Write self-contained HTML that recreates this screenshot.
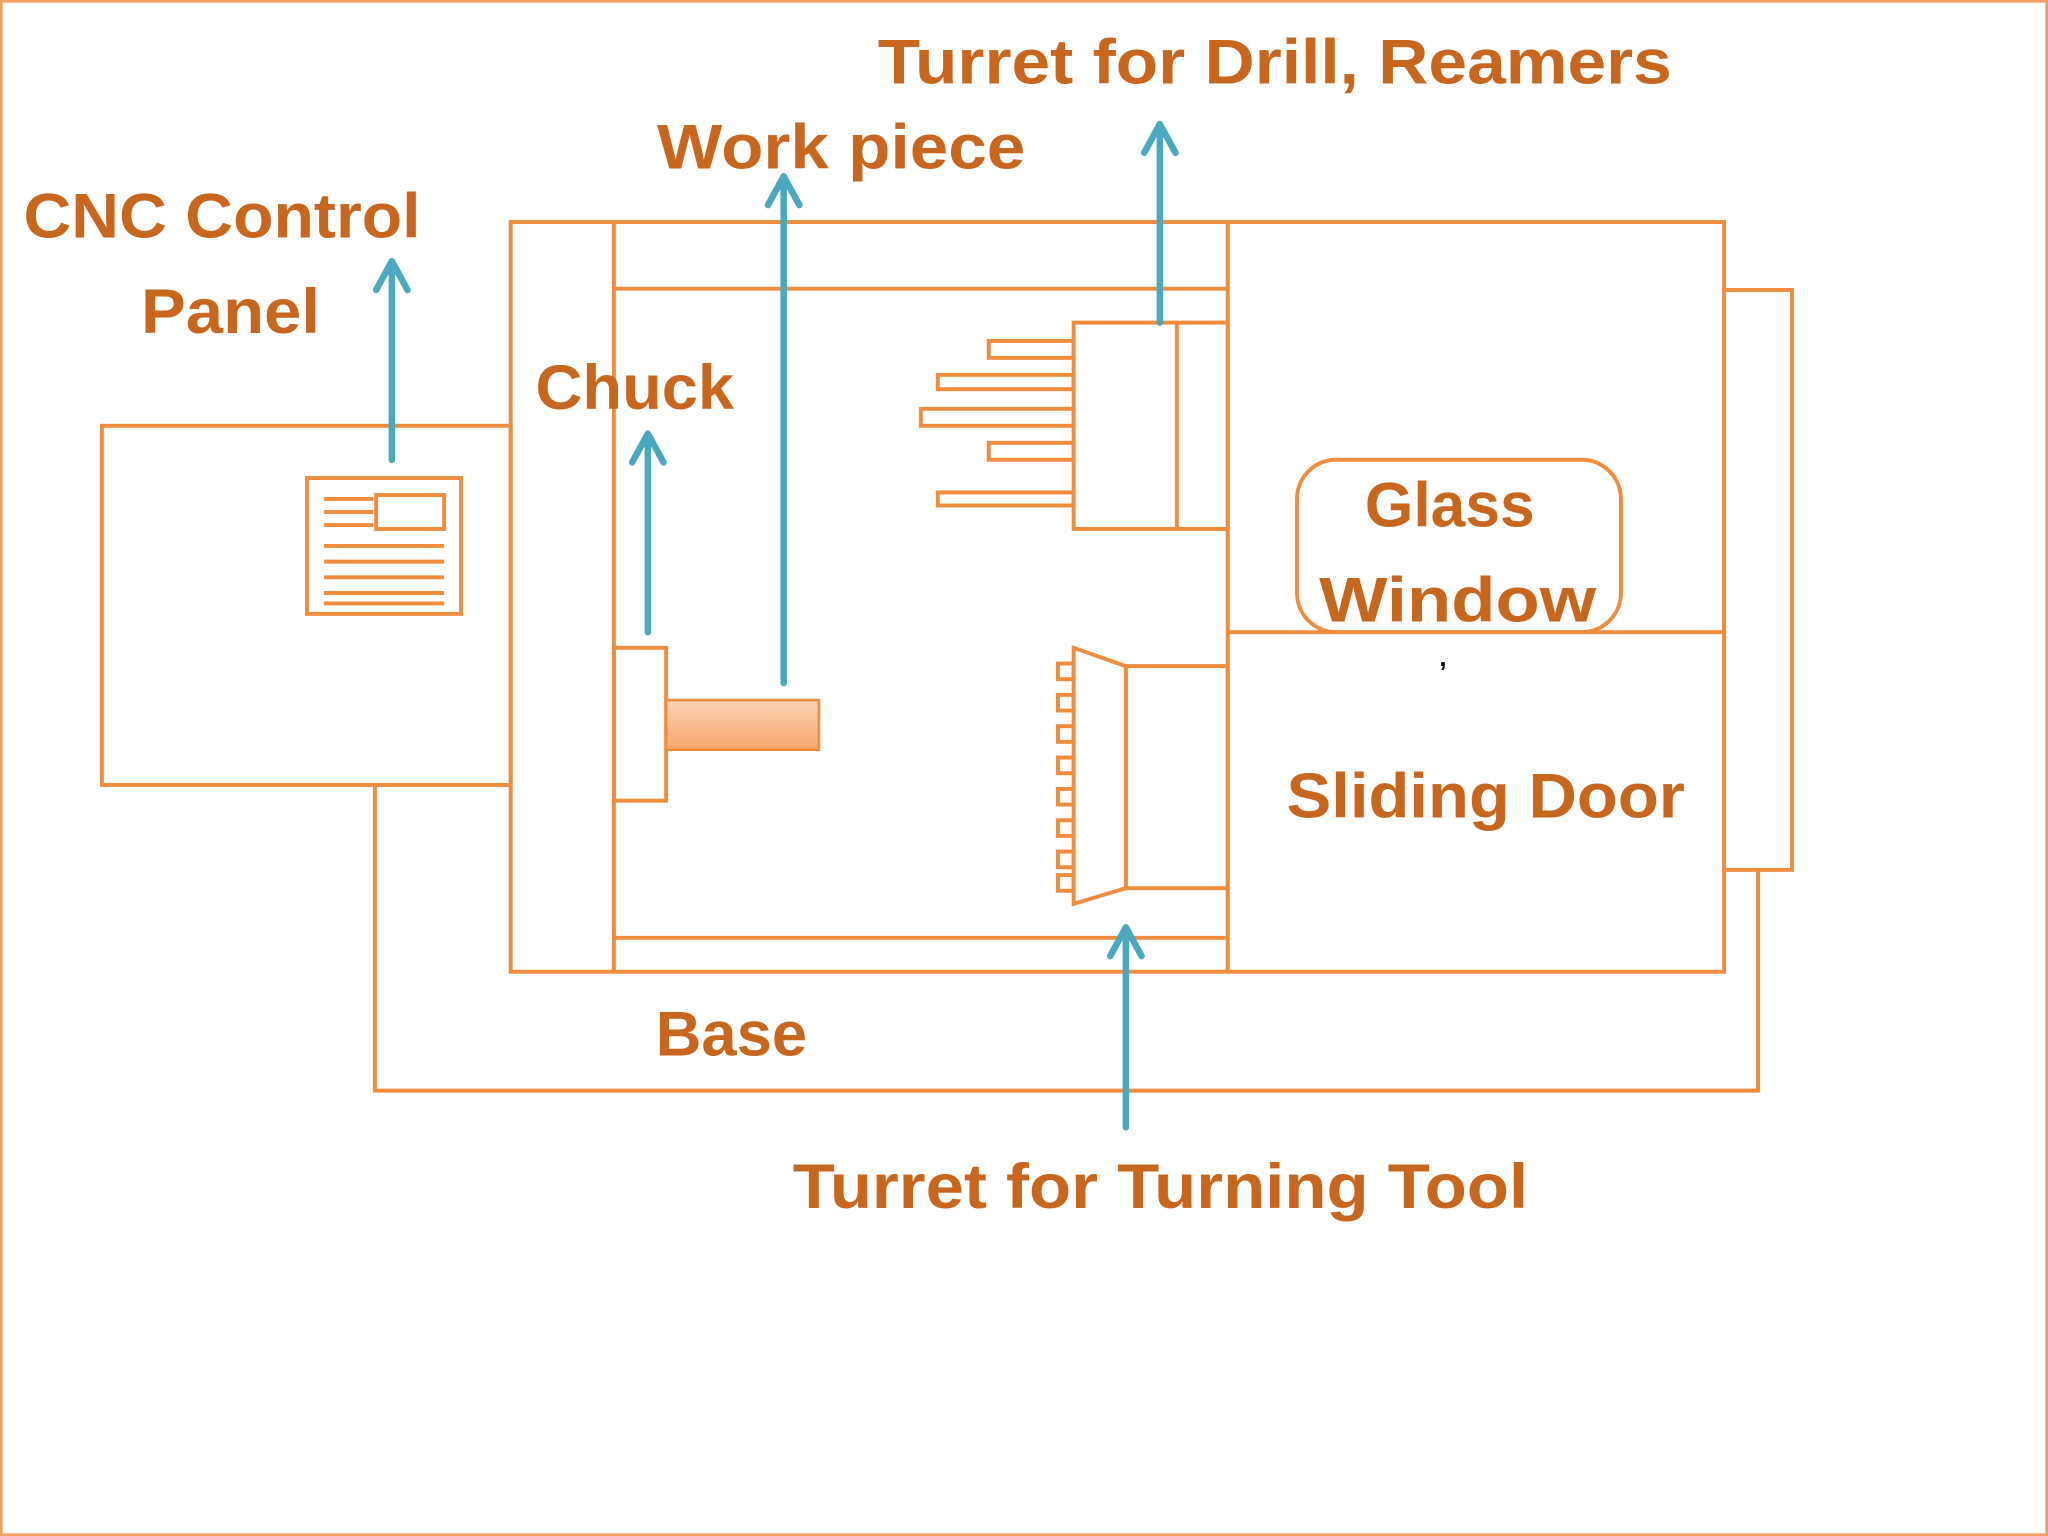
<!DOCTYPE html>
<html><head><meta charset="utf-8"><style>
html,body{margin:0;padding:0;background:#fff;}
svg{display:block;}
text{font-family:"Liberation Sans",sans-serif;font-weight:bold;fill:#c8661e;}
</style></head><body>
<svg width="2048" height="1536" viewBox="0 0 1568 1176" xmlns="http://www.w3.org/2000/svg">
<defs>
<linearGradient id="wp" x1="0" y1="0" x2="0" y2="1"><stop offset="0" stop-color="#fbd3b5"/><stop offset="1" stop-color="#f7a56a"/></linearGradient>
</defs>
<rect x="1" y="1" width="1566" height="1174" fill="#fff" stroke="#f0a060" stroke-width="2"/>
<g fill="none" stroke="#f08c3c" stroke-width="3">
<rect x="78" y="326" width="313" height="275"/>
<rect x="235" y="366" width="118" height="104"/>
<rect x="288" y="379" width="52" height="26"/>
<path d="M248 382H286M248 392H286M248 402H286M248 418H340M248 430H340M248 442H340M248 454H340M248 462H340"/>
<rect x="391" y="170" width="929" height="574"/>
<path d="M470 170V744M940 170V744M470 221H940M470 718H940M940 484H1320"/>
<rect x="1320" y="222" width="52" height="444"/>
<path d="M287 601V835H1346V666"/>
<rect x="470" y="496" width="40" height="117"/>
<rect x="822" y="247" width="118" height="158"/>
<path d="M901 247V405"/>
<rect x="757" y="261" width="65" height="13"/>
<rect x="718" y="287" width="104" height="11"/>
<rect x="705" y="313" width="117" height="13"/>
<rect x="757" y="339" width="65" height="13"/>
<rect x="718" y="377" width="104" height="10"/>
<path d="M822 496L862 510V680L822 692Z"/>
<rect x="862" y="510" width="78" height="170"/>
<rect x="810" y="508" width="12" height="12"/>
<rect x="810" y="532" width="12" height="12"/>
<rect x="810" y="556" width="12" height="12"/>
<rect x="810" y="580" width="12" height="12"/>
<rect x="810" y="604" width="12" height="12"/>
<rect x="810" y="628" width="12" height="12"/>
<rect x="810" y="652" width="12" height="12"/>
<rect x="810" y="670" width="12" height="12"/>
<rect x="993" y="352" width="248" height="132" rx="30"/>
</g>
<rect x="510" y="536" width="117" height="38" fill="url(#wp)" stroke="#f08c3c" stroke-width="2"/>
<g stroke="#4aa8c0" stroke-width="5" fill="none" stroke-linecap="round" stroke-linejoin="round">
<path d="M300 352V200M288 222L300 200L312 222"/>
<path d="M496 484V332M484 354L496 332L508 354"/>
<path d="M600 523V135M588 157L600 135L612 157"/>
<path d="M888 247V95M876 117L888 95L900 117"/>
<path d="M862 863V710M850 732L862 710L874 732"/>
</g>
<g font-size="48">
<text x="672" y="64" textLength="608" lengthAdjust="spacingAndGlyphs">Turret for Drill, Reamers</text>
<text x="503" y="129" textLength="282" lengthAdjust="spacingAndGlyphs">Work piece</text>
<text x="18" y="182" textLength="304" lengthAdjust="spacingAndGlyphs">CNC Control</text>
<text x="108" y="255" textLength="137" lengthAdjust="spacingAndGlyphs">Panel</text>
<text x="410" y="313" textLength="152" lengthAdjust="spacingAndGlyphs">Chuck</text>
<text x="1045" y="403" textLength="130" lengthAdjust="spacingAndGlyphs">Glass</text>
<text x="1010" y="476" textLength="212" lengthAdjust="spacingAndGlyphs">Window</text>
<text x="985" y="626" textLength="305" lengthAdjust="spacingAndGlyphs">Sliding Door</text>
<text x="502" y="808" textLength="116" lengthAdjust="spacingAndGlyphs">Base</text>
<text x="607" y="925" textLength="563" lengthAdjust="spacingAndGlyphs">Turret for Turning Tool</text>
</g>
<text x="1102" y="510" font-size="20" style="fill:#000">,</text>
</svg>
</body></html>
